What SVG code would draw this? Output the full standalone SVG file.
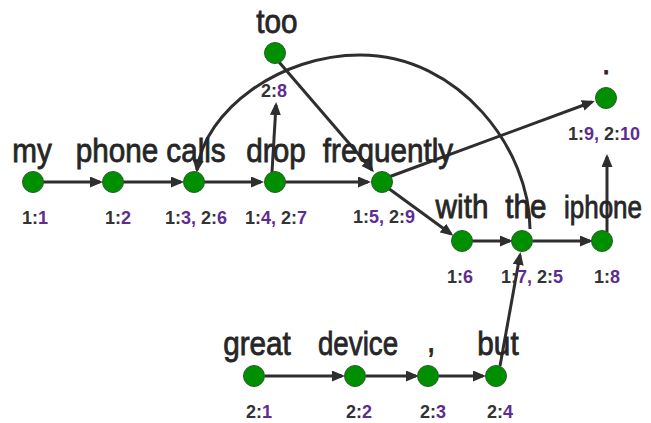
<svg xmlns="http://www.w3.org/2000/svg" width="651" height="423" viewBox="0 0 651 423">
<style>
.e{fill:none;stroke:#2e2e2e;stroke-width:3;marker-end:url(#ah)}
.n{fill:#008f00;stroke:#275e27;stroke-width:1}
.w{font-family:"Liberation Sans",Arial,sans-serif;font-size:33px;fill:#262626;stroke:#262626;stroke-width:0.8;text-anchor:middle}
.l{font-family:"Liberation Sans",Arial,sans-serif;font-size:18px;font-weight:bold;fill:#333333;text-anchor:middle}
.p{fill:#5f2d91}
</style>
<defs>
<marker id="ah" markerUnits="userSpaceOnUse" markerWidth="13" markerHeight="11" refX="10" refY="5.5" orient="auto">
<path d="M0,0 L13,5.5 L0,11 z" fill="#2e2e2e"/>
</marker>
</defs>
<rect width="651" height="423" fill="#ffffff"/>
<g id="connectors">
<line class="e" x1="43" y1="182" x2="100" y2="182"/>
<line class="e" x1="123" y1="182" x2="181" y2="182"/>
<line class="e" x1="204" y1="182" x2="261" y2="182"/>
<line class="e" x1="285" y1="182" x2="368" y2="182"/>
<line class="e" x1="272" y1="172" x2="276" y2="105"/>
<line class="e" x1="279" y1="62" x2="372" y2="170"/>
<line class="e" x1="386" y1="178" x2="592" y2="102"/>
<line class="e" x1="388" y1="188" x2="451" y2="234"/>
<line class="e" x1="472" y1="241" x2="510" y2="241"/>
<line class="e" x1="533" y1="241" x2="590" y2="241"/>
<line class="e" x1="607" y1="232" x2="607" y2="157"/>
<line class="e" x1="500" y1="366" x2="520" y2="255"/>
<line class="e" x1="265" y1="376" x2="342" y2="376"/>
<line class="e" x1="366" y1="376" x2="416" y2="376"/>
<line class="e" x1="439" y1="376" x2="483" y2="376"/>
<path class="e" d="M530 229 C530 150 460 55 360 55 C280 55 205 110 197 170"/>
</g>
<g id="n-my"><circle class="n" cx="33" cy="182" r="10.5"/><text class="w" transform="translate(32 162) scale(0.9 1)">my</text><text class="l" x="35" y="224">1:<tspan class="p">1</tspan></text></g>
<g id="n-phone"><circle class="n" cx="113" cy="182" r="10.5"/><text class="w" transform="translate(117 162) scale(0.9 1)">phone</text><text class="l" x="118" y="224">1:<tspan class="p">2</tspan></text></g>
<g id="n-calls"><circle class="n" cx="194" cy="182" r="10.5"/><text class="w" transform="translate(196 162) scale(0.9 1)">calls</text><text class="l" x="196" y="224">1:<tspan class="p">3,</tspan> 2:<tspan class="p">6</tspan></text></g>
<g id="n-drop"><circle class="n" cx="275" cy="182" r="10.5"/><text class="w" transform="translate(276 162) scale(0.9 1)">drop</text><text class="l" x="276" y="224">1:<tspan class="p">4,</tspan> 2:<tspan class="p">7</tspan></text></g>
<g id="n-too"><circle class="n" cx="275" cy="53" r="10.5"/><text class="w" transform="translate(277 33) scale(0.9 1)">too</text><text class="l" x="274" y="97">2:<tspan class="p">8</tspan></text></g>
<g id="n-frequently"><circle class="n" cx="382" cy="182" r="10.5"/><text class="w" transform="translate(388 162) scale(0.9 1)">frequently</text><text class="l" x="384" y="223">1:<tspan class="p">5,</tspan> 2:<tspan class="p">9</tspan></text></g>
<g id="n-period"><circle class="n" cx="606" cy="98" r="10.5"/><text class="w" transform="translate(606 74) scale(0.9 1)">.</text><text class="l" x="604" y="140">1:<tspan class="p">9,</tspan> 2:<tspan class="p">10</tspan></text></g>
<g id="n-with"><circle class="n" cx="462" cy="241" r="10.5"/><text class="w" transform="translate(462 218) scale(0.9 1)">with</text><text class="l" x="460" y="283">1:<tspan class="p">6</tspan></text></g>
<g id="n-the"><circle class="n" cx="522" cy="241" r="10.5"/><text class="w" transform="translate(526 218) scale(0.9 1)">the</text><text class="l" x="532" y="283">1:<tspan class="p">7,</tspan> 2:<tspan class="p">5</tspan></text></g>
<g id="n-iphone"><circle class="n" cx="602" cy="241" r="10.5"/><text class="w" x="603" y="218" style="font-size:31px" textLength="78" lengthAdjust="spacingAndGlyphs">iphone</text><text class="l" x="607" y="283">1:<tspan class="p">8</tspan></text></g>
<g id="n-great"><circle class="n" cx="254" cy="376" r="10.5"/><text class="w" transform="translate(257 355) scale(0.9 1)">great</text><text class="l" x="259" y="418">2:<tspan class="p">1</tspan></text></g>
<g id="n-device"><circle class="n" cx="355" cy="376" r="10.5"/><text class="w" transform="translate(358 355) scale(0.9 1)" textLength="89" lengthAdjust="spacingAndGlyphs">device</text><text class="l" x="359" y="418">2:<tspan class="p">2</tspan></text></g>
<g id="n-comma"><circle class="n" cx="428" cy="376" r="10.5"/><text class="w" transform="translate(431 352) scale(0.9 1)">,</text><text class="l" x="433" y="418">2:<tspan class="p">3</tspan></text></g>
<g id="n-but"><circle class="n" cx="496" cy="376" r="10.5"/><text class="w" transform="translate(498 355) scale(0.9 1)">but</text><text class="l" x="500" y="418">2:<tspan class="p">4</tspan></text></g>
</svg>
